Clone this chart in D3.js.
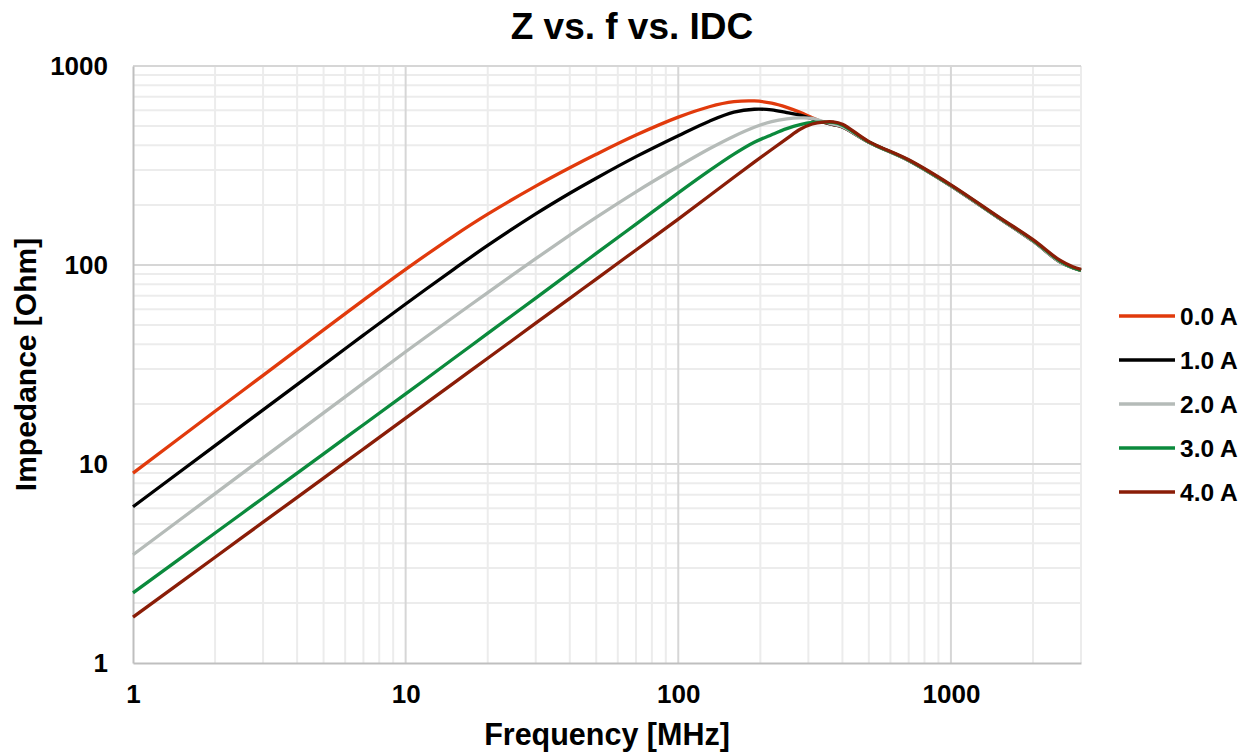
<head>
    <script src="https://d3js.org/d3.v7.min.js"></script>
    <style>
        body { margin: 0; background: #fff; }
        text { font-family: Arial, "Liberation Sans", sans-serif; font-weight: bold; fill: #000; }
    </style>
</head>

<body>
    <div id="app"></div>
</body>

<script>
    // frequency points in MHz
    const freq = [1, 2, 3, 5, 7, 10, 15, 20, 30, 40, 50, 70, 100, 130, 160, 190, 220, 250, 280, 310, 340, 370, 400, 500, 700, 1000, 1500, 2000, 2500, 2800, 3000];

    // impedance in Ohm for each DC bias current
    const z0A = [9.0, 18.4, 27.9, 47.2, 66.6, 95.1, 139.8, 180.1, 249.1, 308.1, 360.1, 449.8, 553.3, 624.1, 661.5, 667.2, 650.8, 620, 585, 550, 522, 508, 494, 414, 335, 250, 172, 132, 104, 97, 94];
    const z1A = [6.1, 12.37, 18.7, 31.5, 44.4, 63.7, 95.1, 125.4, 180.6, 229.4, 273.0, 350.3, 446.3, 528.0, 585.8, 606.3, 601.9, 582.9, 566, 542, 522, 508, 494, 414, 335, 250, 172, 132, 104, 97, 94];
    const z2A = [3.5, 7.1, 10.73, 18.07, 25.48, 36.66, 54.77, 72.62, 107.6, 141.4, 173.6, 233.3, 312.6, 383.6, 443.8, 492.2, 525.6, 542.7, 548.9, 546.1, 526.3, 510, 495, 414, 335, 250, 172, 132, 104, 97, 94];
    const z3A = [2.25, 4.5, 6.75, 11.25, 15.75, 22.5, 33.88, 45.3, 68.22, 91.21, 114.3, 160.6, 230.3, 297.8, 360.5, 413.6, 451.7, 484.6, 507.1, 520.2, 522.6, 520.4, 504.4, 415, 336, 251, 173, 133, 105, 97, 94];
    const z4A = [1.7, 3.4, 5.1, 8.5, 11.9, 17.0, 25.5, 34, 51, 68, 85, 119, 170, 222.7, 275.9, 328.8, 380.7, 431.6, 480.7, 511, 523, 524, 510, 417, 338, 253, 174, 134, 106, 98, 95];

    const seriesNames = ["0.0 A", "1.0 A", "2.0 A", "3.0 A", "4.0 A"];
    const seriesValues = [z0A, z1A, z2A, z3A, z4A];
    const seriesColors = ["#e13a0c", "#000000", "#b5bbb8", "#0b8a3c", "#8a1d07"];

    const xTicks = [1, 10, 100, 1000];
    const yTicks = [1, 10, 100, 1000];

    const W = 1249, H = 753;
    const plotL = 133, plotR = 1081, plotT = 66, plotB = 663;

    const svg = d3.select("#app").append("svg")
        .attr("width", W)
        .attr("height", H);

    const x = d3.scaleLog().domain([1, 3000]).range([plotL, plotR]);
    const y = d3.scaleLog().domain([1, 1000]).range([plotB, plotT]);

    // minor grid values (2..9 per decade)
    const xMinor = [], yMinor = [];
    [1, 10, 100, 1000].forEach(d => {
        for (let k = 2; k <= 9; k++) {
            if (d * k <= 3000) xMinor.push(d * k);
            if (d < 1000) yMinor.push(d * k);
        }
    });

    const grid = svg.append("g");
    grid.selectAll(".xm").data(xMinor).enter().append("line")
        .attr("x1", d => x(d)).attr("x2", d => x(d))
        .attr("y1", plotT).attr("y2", plotB)
        .attr("stroke", "#ececec").attr("stroke-width", 2);
    grid.selectAll(".ym").data(yMinor).enter().append("line")
        .attr("x1", plotL).attr("x2", plotR)
        .attr("y1", d => y(d)).attr("y2", d => y(d))
        .attr("stroke", "#ececec").attr("stroke-width", 2);
    grid.selectAll(".xM").data([10, 100, 1000]).enter().append("line")
        .attr("x1", d => x(d)).attr("x2", d => x(d))
        .attr("y1", plotT).attr("y2", plotB)
        .attr("stroke", "#d6d6d6").attr("stroke-width", 2);
    grid.selectAll(".yM").data([10, 100, 1000]).enter().append("line")
        .attr("x1", plotL).attr("x2", plotR)
        .attr("y1", d => y(d)).attr("y2", d => y(d))
        .attr("stroke", "#d6d6d6").attr("stroke-width", 2);

    // axes
    const xAxis = svg.append("g")
        .attr("transform", `translate(0,${plotB})`)
        .call(d3.axisBottom(x).tickValues(xTicks).tickFormat(d3.format("d")).tickSize(0).tickPadding(22));
    const yAxis = svg.append("g")
        .attr("transform", `translate(${plotL},0)`)
        .call(d3.axisLeft(y).tickValues(yTicks).tickFormat(d3.format("d")).tickSize(0).tickPadding(25));
    [xAxis, yAxis].forEach(a => {
        a.select(".domain").attr("stroke", "#bfbfbf").attr("stroke-width", 2);
        a.selectAll("text").attr("font-size", 26).attr("font-family", "Arial, 'Liberation Sans', sans-serif")
            .attr("font-weight", "bold").attr("fill", "#000");
    });

    // curves
    const line = d3.line()
        .x((d, i) => x(freq[i]))
        .y(d => y(d))
        .curve(d3.curveCatmullRom.alpha(0.5));

    svg.append("g").selectAll("path").data(seriesValues).enter().append("path")
        .attr("d", d => line(d))
        .attr("fill", "none")
        .attr("stroke", (d, i) => seriesColors[i])
        .attr("stroke-width", 3.3)
        .attr("stroke-linejoin", "round");

    // titles
    svg.append("text").attr("x", 632).attr("y", 39).attr("text-anchor", "middle")
        .attr("font-size", 37).text("Z vs. f vs. IDC");
    svg.append("text").attr("x", (plotL + plotR) / 2).attr("y", 745).attr("text-anchor", "middle")
        .attr("font-size", 30.5).text("Frequency [MHz]");
    svg.append("text").attr("transform", `translate(36,${(plotT + plotB) / 2}) rotate(-90)`)
        .attr("text-anchor", "middle").attr("font-size", 30).text("Impedance [Ohm]");

    // legend
    const legend = svg.append("g").selectAll("g").data(seriesNames).enter().append("g")
        .attr("transform", (d, i) => `translate(1119,${316 + i * 44})`);
    legend.append("line").attr("x1", 0).attr("x2", 56)
        .attr("stroke", (d, i) => seriesColors[i]).attr("stroke-width", 3.5);
    legend.append("text").attr("x", 61).attr("dy", "0.36em")
        .attr("font-size", 24.5).text(d => d);
</script>
